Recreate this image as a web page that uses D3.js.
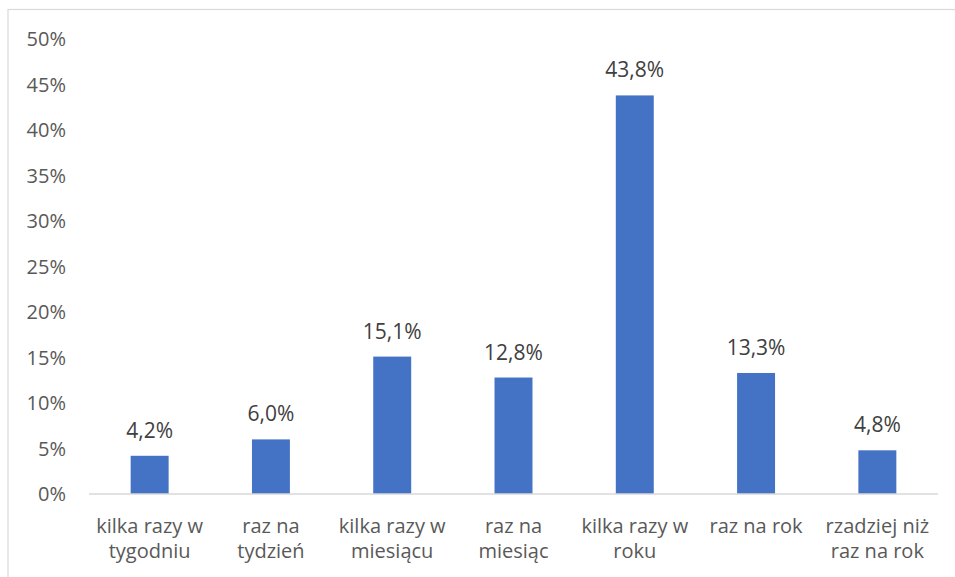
<!DOCTYPE html>
<html><head><meta charset="utf-8">
<script src="https://cdn.jsdelivr.net/npm/d3@7"></script>
<style>body{margin:0;background:#fff}svg{display:block}text{font-family:"Open Sans",sans-serif}</style>
</head><body><svg id="c" width="955" height="577"></svg>
<script>
const categories = ["kilka razy w tygodniu","raz na tydzień","kilka razy w miesiącu","raz na miesiąc","kilka razy w roku","raz na rok","rzadziej niż raz na rok"];
const values = [4.2, 6.0, 15.1, 12.8, 43.8, 13.3, 4.8];
const valueLabels = ["4,2%","6,0%","15,1%","12,8%","43,8%","13,3%","4,8%"];
const yTicks = [0,5,10,15,20,25,30,35,40,45,50];

const svg = d3.select("#c");
svg.append("rect").attr("x",8).attr("y",9.5).attr("width",1000).attr("height",700)
  .attr("fill","none").attr("stroke","#d9d9d9").attr("stroke-width",1.2);

const x = d3.scaleBand().domain(categories).range([89,938]).padding(0);
const y = d3.scaleLinear().domain([0,50]).range([494,39]);
const barW = x.bandwidth()*0.313;

// y tick labels
svg.append("g").selectAll("text").data(yTicks).join("text")
  .attr("x",66).attr("y",d=>y(d)).attr("dy","0.36em").attr("text-anchor","end")
  .attr("font-size",20).attr("fill","#595959").text(d=>d+"%");

// bars
svg.append("g").selectAll("rect").data(values).join("rect")
  .attr("x",(d,i)=>x(categories[i])+x.bandwidth()/2-barW/2)
  .attr("y",d=>y(d)).attr("width",barW).attr("height",d=>y(0)-y(d))
  .attr("fill","#4472c4");

// baseline
svg.append("line").attr("x1",89).attr("x2",938).attr("y1",y(0)).attr("y2",y(0))
  .attr("stroke","#d9d9d9").attr("stroke-width",1.5);

// value labels
svg.append("g").selectAll("text").data(values).join("text")
  .attr("x",(d,i)=>x(categories[i])+x.bandwidth()/2).attr("y",d=>y(d)-18)
  .attr("text-anchor","middle").attr("font-size",21).attr("fill","#404040")
  .text((d,i)=>valueLabels[i]);

// category labels with wrapping
const cg = svg.append("g");
categories.forEach(c=>{
  const t = cg.append("text").attr("x",x(c)+x.bandwidth()/2).attr("y",533)
    .attr("text-anchor","middle").attr("font-size",20).attr("fill","#595959");
  const words = c.split(" ");
  let line = [], lineNo = 0;
  let ts = t.append("tspan").attr("x",x(c)+x.bandwidth()/2).attr("y",533);
  words.forEach(w=>{
    line.push(w);
    ts.text(line.join(" "));
    if (ts.node().getComputedTextLength() > x.bandwidth()-4 && line.length>1) {
      line.pop(); ts.text(line.join(" "));
      line = [w]; lineNo++;
      ts = t.append("tspan").attr("x",x(c)+x.bandwidth()/2).attr("y",533+lineNo*25).text(w);
    }
  });
});
</script></body></html>
